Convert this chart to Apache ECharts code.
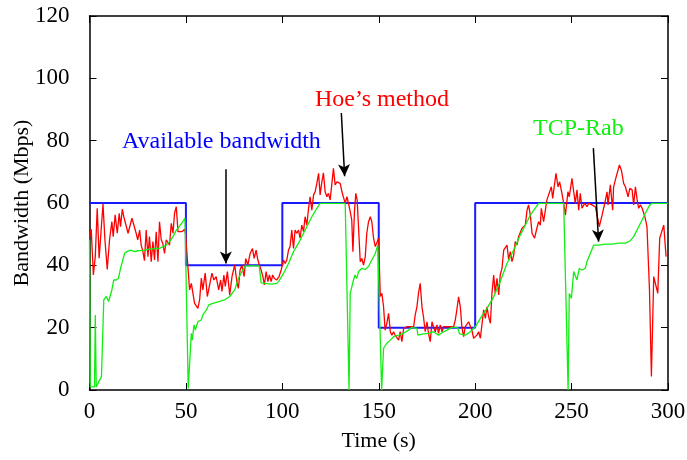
<!DOCTYPE html>
<html>
<head>
<meta charset="utf-8">
<script src="https://cdn.jsdelivr.net/npm/echarts@6/dist/echarts.min.js"></script>
<style>html,body{margin:0;padding:0;background:#fff}#c{width:687px;height:460px}</style>
</head>
<body>
<div id="c"></div>
<script>
const xTicks = [0, 50, 100, 150, 200, 250, 300];
const yTicks = [0, 20, 40, 60, 80, 100, 120];

const available = [[0,60],[50,60],[50,40],[100,40],[100,60],[150,60],[150,20],[200,20],[200,60],[300,60]];

const hoe = [[0,48.7],[0.9,51.6],[2,36.9],[3,42.8],[4,58.3],[5,42.3],[6,42.3],[7,59.7],[8,48.2],[9.2,38.7],[10.4,48.2],[11.6,54],[12.3,49.2],[13.3,56.2],[14.4,50.3],[15.4,56.7],[16.1,52.4],[17,58],[17.8,55.6],[18.7,56.2],[20,50.3],[21,50.3],[22,55.1],[23,55.6],[24.2,50.3],[25,48.2],[26,51.3],[26.8,46.5],[27.7,44.4],[28.5,41.5],[29.4,51.3],[30.3,42.8],[31.1,49.2],[32,41.2],[32.9,47.6],[33.7,41.7],[34.6,50.8],[35.5,41.2],[36.3,54],[37.2,48.2],[38,47.1],[38.9,43.8],[39.8,48.2],[40.7,47.6],[41.5,46.5],[42.4,53.5],[43.3,50.3],[44.1,56.7],[45,58.8],[45.9,50.8],[46.7,51.3],[47.9,50.8],[49.3,51.6],[49.8,50.3],
[51.9,32.1],[52.8,34.2],[54.5,27.8],[56.2,26.2],[57.1,28.9],[58,35.9],[58.8,32.1],[60,37.5],[61.1,30],[62.3,33.7],[63.5,37.5],[64.5,35.3],[65.7,36.4],[67,32.1],[68,35.3],[68.7,31.6],[69.7,36.9],[70.4,33.2],[71.5,38],[72.7,30.5],[73.9,36.4],[75.3,40.1],
[76.4,34.8],[77.2,32.6],[78.1,38.5],[79,40.1],[80.2,36.4],[81,42.2],[82.1,40.1],[83.3,43.8],[84.5,45.4],[85.4,42.2],[86.4,44.9],[87.3,41.7],[88.1,40.1],[89,38.5],[89.9,36.4],[90.7,33.7],[91.6,38],[92.5,34.8],[93.3,36.9],[94.2,34.8],[95,36.9],[95.9,35.8],[97.1,35.3],[98.3,36.4],[99.4,38.5],[100.6,41.7],[101.5,40.6],[102.3,41.7],[103.2,44.9],[104,46],[104.9,51.3],[105.8,45.4],[106.6,51.3],[107.5,50.3],[108.4,51.3],[109.2,48.7],[110.1,52.9],[111,50.8],[111.8,55.6],[112.7,52.9],[113.6,58.3],[114.4,62],[115.3,57.7],[116.2,62.6],[117,63.6],[117.9,66.3],[118.8,69.5],[119.6,62.6],[120.5,66.8],[121.3,69.7],[122.2,63.6],[123.1,62],[123.9,63.1],[124.8,61],[125.7,66.3],[126.5,71.1],[127.4,65.8],[128.3,66.8],[129.1,66.8],[130,66.3],[130.9,63.6],[131.7,63.1],[132.6,59.9],[133.5,62],[134.3,59.9],[135.2,57.2],[136,54.5],[136.6,44.4],[137.4,57.2],[138.1,63.1],[138.8,61],[139.5,52.4],[140.4,41.2],[141.2,42.2],[142.1,40.1],[143,42.8],[143.8,50.3],[144.7,54],[145.6,55.6],[146.4,54],[147.3,48.7],[148.2,46],[149,46.5],[149.9,48.7],[150.8,30],[151.6,31],[152.5,26.7],[153.3,19.2],
[154.2,21.4],[155.1,24.6],[156,18.7],[156.8,17.6],[157.7,18.7],[158.5,17.6],[159.4,18.2],[160.3,16],[161.1,18.7],[162,15.5],[162.9,19.8],[163.7,20.3],[164.6,20.3],[165.5,20.9],[166.3,20.3],[167.2,19.8],[168.1,20.3],[168.9,24.1],[169.8,26.7],[170.6,31],[171.5,34.2],[172.4,26.7],[173.2,23.5],[174.1,18.7],[175,21.9],[175.8,18.2],[176.7,15.5],[177.6,21.9],[178.4,20.3],[179.3,18.7],[180.2,20.9],[181,18.2],[181.9,20.9],[182.8,18.7],[183.6,20.3],[184.5,19.8],[185.4,20.3],[186.2,19.8],[187.1,20.3],[188,20.9],[188.8,20.3],[189.7,22.5],[190.5,25.7],[191.4,29.9],[192.3,26.7],[193.1,20.3],[194,17.1],[194.9,20.3],[195.7,20.9],[196.6,21.9],[197.5,21.4],[198.3,19.2],[199.2,16.6],[200.1,16],[200.9,17.6],[201.8,18.7],[202.7,16.6],[203.5,20.9],[204.4,25.7],[205.3,23],[206.1,26.7],[207,23.5],[207.9,21.4],[208.7,31],[209.6,36.9],[210.4,31],[211.3,35.8],[212.2,30.5],[213,36.9],[213.9,39],[214.8,44.9],[215.6,44.4],[216.5,46.5],[217.4,41.7],[218.2,44.4],[219.1,41.2],[220,43.3],[220.8,47.6],[221.7,46.5],[222.5,49.2],[223.4,48.7],[224.3,51.9],[225.1,51.3],[226,52.9],[226.9,57.7],[227.7,59.4],[228.6,56.1],[229.5,50.3],[230.8,48.7],[232,51.9],[232.9,54],[233.8,52.9],[234.3,58.3],[235.5,54],[237.2,61],[238.1,61],[239.5,65.2],[240.2,61.5],[241.9,69.5],[243,65.2],[243.8,66.8],[245,63.1],[245.9,59.9],[246.8,56.1],[248.1,63.6],[248.8,62],[250.2,67.9],[251.1,63.6],[251.9,59.9],[252.8,64.2],[253.7,57.7],[254.5,63.1],[255.4,58.3],[256.8,59.9],[258,58.8],[258.9,59.9],[260.6,59.4],[262.3,58.8],[263.2,59.4],[264.4,52.4],[265.8,56.1],[267.2,59.9],[268.4,63.6],[268.9,59.4],[270.1,65.8],[271.3,57.7],[271.8,65.2],[272.7,67.4],[274.8,72.2],[275.8,70.6],[277,66.3],[277.9,65.2],[279.3,62],[280.2,64.7],[281.4,64.2],[282.2,59.4],[283.1,65.2],[284,61],[284.8,58.3],[285.7,59.4],[286.6,58.3],[288,55.6],[289.1,52.4],[290.4,32.1],[291.4,4.3],[292.6,36.4],[294.7,31],[295.7,48.7],[297.8,52.9],[299,42.8]];

const tcpRab = [[0,48.2],[0.4,1],[2.6,1],[3,24.1],[3.5,1],[6.2,4.3],[7.4,28.9],[8.7,30],[9.9,28.4],[10.9,27.8],[11.6,32.1],[12.6,35.3],[13.8,35.3],[15,35.8],[16.1,39],[17.3,41.7],[18.2,43.9],[19.4,44.4],[20.4,44.4],[21.3,44.9],[22.1,45.1],[23.4,44.4],[24.7,44.6],[26,44.7],[27.7,44.7],[30.3,45.1],[33.7,45.4],[36.3,45.4],[38,46],[39.8,46.5],[41.5,47.6],[43.3,49.2],[45,51.3],[46.7,52.6],[48.4,54],[49.5,55.1],[51.2,0.5],[52.8,18.2],[53.3,16],[54.2,20.9],[54.9,19.2],[56.2,21.9],[58,22.5],[58.8,24.1],[60.6,25.7],[61.8,27.3],[64,27.8],[67.5,28.4],[70,28.9],[72.7,30],[75.3,32.1],[77.2,35.8],[79,38],[80.7,39.8],[88,39.8],[89,34.4],[91,34.2],[94.5,34],[97.1,34.2],[98.3,35],[100.6,37.4],[103.2,40.6],[105.8,44.4],[108.4,47.1],[110.1,49.2],[112.7,52.4],[115.3,55.6],[117.9,58.3],[119.6,59.9],[132.6,59.9],[134.6,0],[135.2,31],[136,31.5],[136.9,35.3],[137.7,36.9],[138.6,35.8],[139.5,38],[141.2,39],[142.9,38.7],[144.7,39.6],[146.4,41.7],[148.2,43.8],[149.5,46.5],[151.5,0],[152.5,13.4],[153.3,13.9],[154.2,15],[156,16],[157.7,17.1],[160.3,17.6],[162.9,18.2],[165.5,19.2],[167.2,20.1],[169.8,19.8],[170.3,17.6],[173.2,18],[175.8,18.2],[178.4,18.7],[181,17.6],[182.8,18.4],[185.4,19.2],[188,20.1],[190.9,20.1],[191.9,18],[194.9,17.6],[197.5,18.7],[200.1,20.3],[202.7,23],[206.1,26.2],[209.6,29.9],[213,34.8],[216.5,40.6],[220,44.9],[223.4,49.7],[226.9,54],[228.6,56.1],[232.9,59.9],[245.9,59.9],[248.2,0],[248.8,31],[249.9,29.4],[251.1,38],[252.8,35.3],[254,39],[255.4,38.5],[257.1,39],[258,41.2],[259.7,43.8],[261.5,46.5],[264.1,46.5],[267.5,46.8],[271,46.8],[274.4,47.1],[277.9,47.1],[280.5,47.9],[282.2,49.2],[284.8,52.4],[287.4,55.6],[290,58.8],[291.4,59.9],[300,59.9]];

// annotation arrows in data units: [start, end]
const arrows = [
  [[70.7, 70.8], [70.7, 40.6]],
  [[130.6, 88.9], [132.3, 68.6]],
  [[261.3, 77.6], [264.0, 47.6]]
];

const FONT = '"Liberation Serif", "Times New Roman", serif';

const chart = echarts.init(document.getElementById('c'), null, {renderer: 'canvas'});
const axisCommon = {
  type: 'value',
  axisLine: {show: true, onZero: false, lineStyle: {color: '#000', width: 1.5}},
  axisTick: {show: true, inside: true, length: 7, lineStyle: {color: '#000', width: 1}},
  splitLine: {show: false}
};
chart.setOption({
  animation: false,
  backgroundColor: '#fff',
  grid: {left: 89.5, right: 19, top: 16, bottom: 70, containLabel: false, outerBoundsMode: 'none'},
  xAxis: [
    Object.assign({}, axisCommon, {
      min: xTicks[0], max: xTicks[xTicks.length - 1], interval: 50,
      name: 'Time (s)', nameLocation: 'middle', nameGap: 40, nameMoveOverlap: false,
      nameTextStyle: {fontFamily: FONT, fontSize: 22, color: '#000'},
      axisLabel: {fontFamily: FONT, fontSize: 23, color: '#000', margin: 10}
    }),
    Object.assign({}, axisCommon, {
      position: 'top', min: xTicks[0], max: xTicks[xTicks.length - 1], interval: 50,
      axisLabel: {show: false}
    })
  ],
  yAxis: [
    Object.assign({}, axisCommon, {
      min: yTicks[0], max: yTicks[yTicks.length - 1], interval: 20,
      name: 'Bandwidth (Mbps)', nameLocation: 'middle', nameGap: 56, nameMoveOverlap: false,
      nameTextStyle: {fontFamily: FONT, fontSize: 22, color: '#000'},
      axisLabel: {fontFamily: FONT, fontSize: 23, color: '#000', margin: 20}
    }),
    Object.assign({}, axisCommon, {
      position: 'right', min: yTicks[0], max: yTicks[yTicks.length - 1], interval: 20,
      axisLabel: {show: false}
    })
  ],
  series: [
    {
      name: 'Available bandwidth', type: 'line', data: available, showSymbol: false,
      lineStyle: {color: '#1a1aff', width: 2}, z: 2
    },
    {
      name: "Hoe’s method", type: 'line', data: hoe, showSymbol: false,
      lineStyle: {color: '#ff0000', width: 1.3}, z: 3
    },
    {
      name: 'TCP-Rab', type: 'line', data: tcpRab, showSymbol: false,
      lineStyle: {color: '#11ee11', width: 1.3}, z: 4
    },
    {
      name: 'arrows', type: 'line', data: [], z: 5,
      markLine: {
        silent: true, animation: false,
        symbol: ['none', 'arrow'], symbolSize: [9, 12],
        label: {show: false},
        lineStyle: {color: '#000', width: 1.5, type: 'solid'},
        data: arrows.map(a => [{coord: a[0]}, {coord: a[1]}])
      }
    }
  ],
  graphic: [
    {type: 'text', left: 122, top: 130, style: {text: 'Available bandwidth', font: '24px ' + FONT, fill: '#0000ff'}},
    {type: 'text', left: 315, top: 88, style: {text: 'Hoe’s method', font: '24px ' + FONT, fill: '#ff0000'}},
    {type: 'text', left: 533, top: 117, style: {text: 'TCP-Rab', font: '24px ' + FONT, fill: '#11ee11'}}
  ]
});
</script>
</body>
</html>
